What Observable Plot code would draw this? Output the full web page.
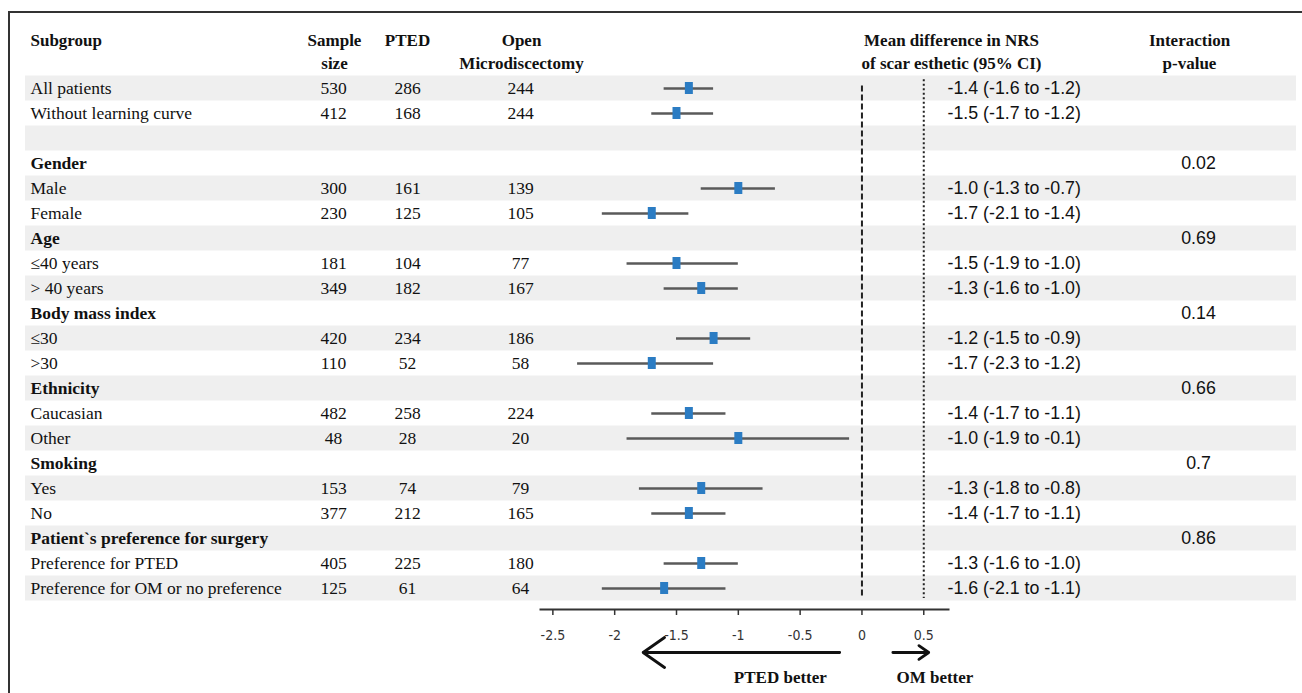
<!DOCTYPE html>
<html>
<head>
<meta charset="utf-8">
<script src="https://cdn.jsdelivr.net/npm/d3@7"></script>
<script src="https://cdn.jsdelivr.net/npm/@observablehq/plot@0.6"></script>
<style>
  html, body { margin: 0; padding: 0; background: #fff; overflow: hidden; }
  #wrap { position: relative; width: 1302px; height: 693px; }
  #border { position: absolute; left: 8px; top: 11px; right: -4px; bottom: -4px; border-left: 2px solid #333; border-top: 2px solid #333; pointer-events: none; }
  #chart { position: absolute; left: 0; top: 0; }
  #chart g[aria-label="x-axis tick label"] text { font-family: "Liberation Sans Narrow", "DejaVu Sans Condensed", "Arial Narrow", sans-serif; font-stretch: condensed; font-size: 14px; fill: #333; }
</style>
</head>
<body>
<div id="wrap"><div id="chart"></div><div id="border"></div></div>
<script>
// ---------- data ----------
const subgroups = ["All patients", "Without learning curve", "", "Gender", "Male", "Female", "Age", "≤40 years", "> 40 years",
  "Body mass index", "≤30", ">30", "Ethnicity", "Caucasian", "Other", "Smoking", "Yes", "No",
  "Patient`s preference for surgery", "Preference for PTED", "Preference for OM or no preference"];
const groupHeaders = ["Gender", "Age", "Body mass index", "Ethnicity", "Smoking", "Patient`s preference for surgery"];
const sampleSize = [530, 412, null, null, 300, 230, null, 181, 349, null, 420, 110, null, 482, 48, null, 153, 377, null, 405, 125];
const ptedN      = [286, 168, null, null, 161, 125, null, 104, 182, null, 234, 52, null, 258, 28, null, 74, 212, null, 225, 61];
const omN        = [244, 244, null, null, 139, 105, null, 77, 167, null, 186, 58, null, 224, 20, null, 79, 165, null, 180, 64];
const estimate   = [-1.4, -1.5, null, null, -1.0, -1.7, null, -1.5, -1.3, null, -1.2, -1.7, null, -1.4, -1.0, null, -1.3, -1.4, null, -1.3, -1.6];
const ciLow      = [-1.6, -1.7, null, null, -1.3, -2.1, null, -1.9, -1.6, null, -1.5, -2.3, null, -1.7, -1.9, null, -1.8, -1.7, null, -1.6, -2.1];
const ciHigh     = [-1.2, -1.2, null, null, -0.7, -1.4, null, -1.0, -1.0, null, -0.9, -1.2, null, -1.1, -0.1, null, -0.8, -1.1, null, -1.0, -1.1];
const pValues    = [null, null, null, "0.02", null, null, "0.69", null, null, "0.14", null, null, "0.66", null, null, "0.7", null, null, "0.86", null, null];
const xTicks = [-2.5, -2, -1.5, -1, -0.5, 0, 0.5];
const columnHeaders = [
  {col: "subgroup", lines: ["Subgroup"]},
  {col: "sample", lines: ["Sample", "size"]},
  {col: "pted", lines: ["PTED"]},
  {col: "om", lines: ["Open", "Microdiscectomy"]},
  {col: "ci", lines: ["Mean difference in NRS", "of scar esthetic (95% CI)"]},
  {col: "p", lines: ["Interaction", "p-value"]}
];
const directionLabels = [{text: "PTED better", from: -0.18, to: -1.77, at: -0.66}, {text: "OM better", from: 0.25, to: 0.54, at: 0.59}];

// ---------- layout ----------
const W = 1302, H = 693;
const mL = 540, mR = 354, mB = 84;
const colX = {subgroup: 30, sample: 333, pted: 407, om: 520, ci: 947, p: 1198};
const headX = {subgroup: ["start", 30], sample: ["middle", 334], pted: ["middle", 407], om: ["middle", 521], ci: ["middle", 951], p: ["middle", 1189]};
const serif = "'Liberation Serif', 'Times New Roman', serif";
const sans = "'Liberation Sans', Arial, sans-serif";
const fs = 17.5, fsSans = 17.8, fsHead = 17;
const headerY = [-1.92, -1.0];
const arrowRow = 22.56, labelRow = 23.56;

const rows = subgroups.map((label, i) => ({
  i, label,
  header: groupHeaders.includes(label),
  sample: sampleSize[i], pted: ptedN[i], om: omN[i],
  est: estimate[i], lo: ciLow[i], hi: ciHigh[i],
  ci: estimate[i] == null ? null : `${estimate[i].toFixed(1)} (${ciLow[i].toFixed(1)} to ${ciHigh[i].toFixed(1)})`,
  p: pValues[i]
}));
const est = rows.filter(d => d.est != null);

const textCol = (data, field, x, anchor, font, size, weight = "normal") =>
  Plot.text(data.filter(d => d[field] != null && d[field] !== ""), {
    y: "i", text: field, frameAnchor: "left", dx: x - mL, textAnchor: anchor,
    fontFamily: font, fontSize: size, fontWeight: weight, fill: "#111"
  });

const chart = Plot.plot({
  width: W, height: H,
  marginLeft: mL, marginRight: mR, marginTop: 20, marginBottom: mB,
  style: {background: "transparent", overflow: "visible"},
  x: {domain: [-2.6, 0.7], axis: null},
  y: {domain: [0, 20], range: [88, 588], axis: null},
  marks: [
    Plot.rect(rows.filter(d => d.i % 2 === 0), {y1: d => d.i - 0.5, y2: d => d.i + 0.5, fill: "#efefef",
      insetLeft: 25 - mL, insetRight: (W - mR) - 1296}),
    Plot.ruleX([0], {y1: -0.1, y2: 20.4, stroke: "#222", strokeWidth: 2, strokeDasharray: "6,3"}),
    Plot.ruleX([0.5], {y1: -0.35, y2: 20.4, stroke: "#222", strokeWidth: 2, strokeDasharray: "2,2.5"}),
    Plot.ruleY(est, {y: "i", x1: "lo", x2: "hi", stroke: "#5a5a5a", strokeWidth: 2.5}),
    Plot.ruleX(est, {x: "est", y1: d => d.i - 0.24, y2: d => d.i + 0.24, stroke: "#2b7cc3", strokeWidth: 8}),
    textCol(rows.filter(d => !d.header), "label", colX.subgroup, "start", serif, fs),
    textCol(rows.filter(d => d.header), "label", colX.subgroup, "start", serif, fs, "bold"),
    textCol(rows, "sample", colX.sample, "middle", serif, fs),
    textCol(rows, "pted", colX.pted, "middle", serif, fs),
    textCol(rows, "om", colX.om, "middle", serif, fs),
    textCol(rows, "ci", colX.ci, "start", sans, fsSans),
    textCol(rows, "p", colX.p, "middle", sans, fsSans),
    ...columnHeaders.flatMap(h => h.lines.map((t, k) => Plot.text([t], {
      y: [headerY[k]], text: d => d, frameAnchor: "left", dx: headX[h.col][1] - mL,
      textAnchor: headX[h.col][0], fontFamily: serif, fontWeight: "bold", fontSize: fsHead, fill: "#111"
    }))),
    Plot.axisX({ticks: xTicks, tickFormat: d => String(d), tickSize: 6, tickPadding: 15, stroke: "#333", strokeWidth: 1.5}),
    Plot.frame({anchor: "bottom", stroke: "#333", strokeWidth: 2}),
    Plot.arrow(directionLabels, {x1: "from", x2: "to", y1: () => arrowRow, y2: () => arrowRow,
      stroke: "#111", strokeWidth: 2.8, headLength: 14, headAngle: 70}),
    Plot.text(directionLabels, {x: "at", y: () => labelRow, text: "text", fontFamily: serif, fontWeight: "bold",
      fontSize: fsHead, fill: "#111", textAnchor: "middle"})
  ]
});
document.getElementById("chart").appendChild(chart);
</script>
</body>
</html>
